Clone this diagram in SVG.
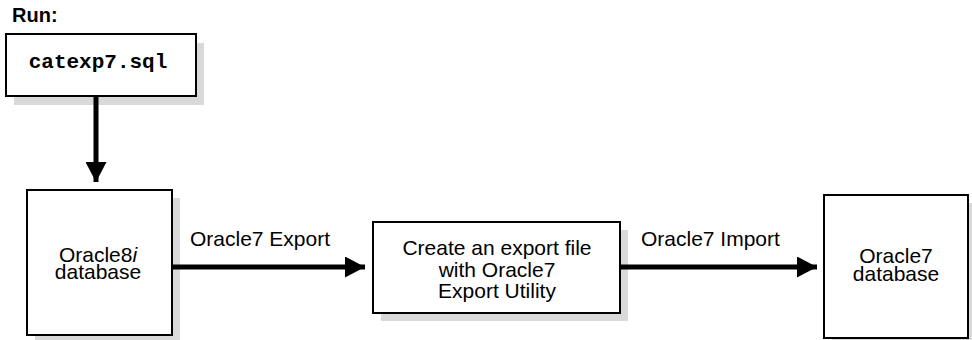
<svg xmlns="http://www.w3.org/2000/svg" width="972" height="340" viewBox="0 0 972 340">
  <defs>
    <style>
      .box { fill: #ffffff; stroke: #000000; stroke-width: 2; }
      .shadow { fill: #d9d9d9; stroke: none; }
      .lbl { font-family: "Liberation Sans", Arial, Helvetica, sans-serif; font-size: 21px; fill: #000000; }
      .mono { font-family: "Liberation Mono", "Courier New", monospace; font-weight: bold; font-size: 21px; fill: #000000; }
      .title { font-family: "Liberation Sans", Arial, Helvetica, sans-serif; font-weight: bold; font-size: 20px; fill: #000000; }
      .conn { stroke: #000000; stroke-width: 5; fill: none; }
    </style>
    <marker id="arrow" markerUnits="userSpaceOnUse" markerWidth="21" markerHeight="21" refX="20" refY="10.5" orient="auto">
      <path d="M0,0 L20,10.5 L0,21 Z" fill="#000000"/>
    </marker>
  </defs>
  <rect width="972" height="340" fill="#ffffff"/>
  <text class="title" x="12" y="22">Run:</text>

  <g id="node-catexp7">
    <rect class="shadow" x="14" y="43" width="190" height="62"/>
    <rect class="box" x="6" y="34" width="190" height="62"/>
    <text class="mono" x="98" y="68" text-anchor="middle">catexp7.sql</text>
  </g>

  <g id="node-oracle8i">
    <rect class="shadow" x="35" y="198" width="145" height="145"/>
    <rect class="box" x="27" y="190" width="145" height="145"/>
    <text class="lbl" x="98" y="262" text-anchor="middle">Oracle8<tspan font-style="italic">i</tspan></text>
    <text class="lbl" x="98" y="279" text-anchor="middle">database</text>
  </g>

  <g id="node-export-file">
    <rect class="shadow" x="381" y="230" width="247" height="91"/>
    <rect class="box" x="373" y="222" width="247" height="91"/>
    <text class="lbl" x="497" y="255" text-anchor="middle">Create an export file</text>
    <text class="lbl" x="497" y="277" text-anchor="middle">with Oracle7</text>
    <text class="lbl" x="497" y="298" text-anchor="middle">Export Utility</text>
  </g>

  <g id="node-oracle7">
    <rect class="shadow" x="832" y="203" width="144" height="143"/>
    <rect class="box" x="824" y="195" width="144" height="143"/>
    <text class="lbl" x="896" y="263" text-anchor="middle">Oracle7</text>
    <text class="lbl" x="896" y="281" text-anchor="middle">database</text>
  </g>

  <g id="connectors">
    <line class="conn" x1="96" y1="97" x2="96" y2="182" marker-end="url(#arrow)"/>
    <line class="conn" x1="173" y1="267" x2="365" y2="267" marker-end="url(#arrow)"/>
    <text class="lbl" x="190" y="246">Oracle7 Export</text>
    <line class="conn" x1="621" y1="267" x2="817" y2="267" marker-end="url(#arrow)"/>
    <text class="lbl" x="641" y="246">Oracle7 Import</text>
  </g>
</svg>
